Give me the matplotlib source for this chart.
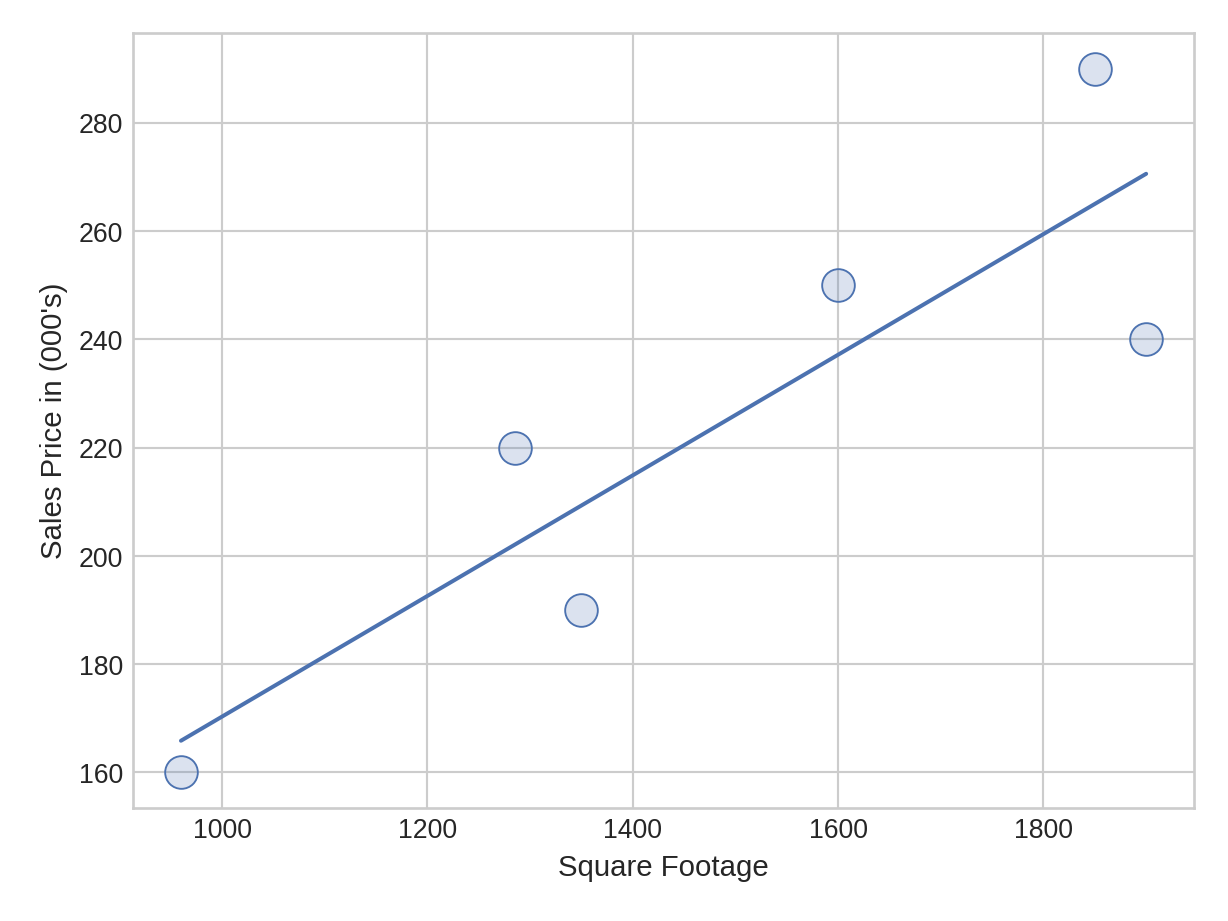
import numpy as np
import matplotlib
matplotlib.use("Agg")
import matplotlib.pyplot as plt

square_footage = [960, 1285, 1350, 1600, 1850, 1900]
sales_price = [160, 220, 190, 250, 290, 240]

plt.style.use("seaborn-v0_8-whitegrid")
plt.rcParams["font.family"] = ["Liberation Sans", "DejaVu Sans"]

fig, ax = plt.subplots(figsize=(6.4, 4.8), dpi=192)
fig.subplots_adjust(left=0.108, right=0.972, top=0.963, bottom=0.123)

blue = "#4c72b0"
ax.scatter(square_footage, sales_price, s=150, facecolor=(0.298, 0.447, 0.690, 0.2),
           edgecolor=blue, linewidth=0.7, zorder=3)

# least squares fit
slope, intercept = np.polyfit(square_footage, sales_price, 1)
xs = np.array([min(square_footage), max(square_footage)])
ax.plot(xs, slope * xs + intercept, color=blue, linewidth=1.5)

ax.set_xlabel("Square Footage", fontsize=11)
ax.set_ylabel("Sales Price in (000's)", fontsize=11)
ax.tick_params(labelsize=10)
for s in ax.spines.values():
    s.set_visible(True)
    s.set_color("#cccccc")

fig.savefig("out.png")
